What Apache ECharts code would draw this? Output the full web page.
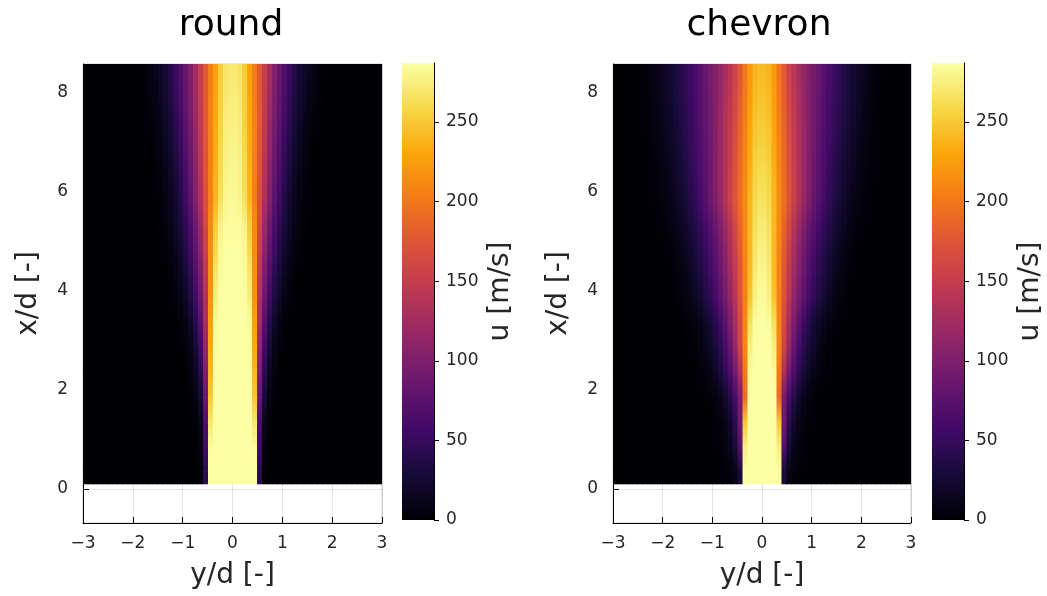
<!DOCTYPE html>
<html>
<head>
<meta charset="utf-8">
<script src="https://cdn.jsdelivr.net/npm/echarts@6/dist/echarts.min.js"></script>
<style>
  html, body { margin: 0; padding: 0; background: #fff; }
  #chart { width: 1047px; height: 596px; }
</style>
</head>
<body>
<div id="chart"></div>
<script>
// Panel titles and axis ticks
const titles = ['round', 'chevron'];
const yTicks = [0, 2, 4, 6, 8];
const colorbarTicks = [0, 50, 100, 150, 200, 250];
const uMax = 287;

// Extent of the measured field in x/d
const fieldStart = 0.1;
const fieldEnd = 8.6;

// Streamwise stations x/d and lateral offsets |y/d| (column centres)
const stations = [0.35, 0.85, 1.35, 1.85, 2.35, 2.85, 3.35, 3.85, 4.35, 4.85,
                  5.35, 5.85, 6.35, 6.85, 7.35, 7.85, 8.35];
const offsets = [0.05, 0.15, 0.25, 0.35, 0.45, 0.55, 0.65, 0.75, 0.85, 0.95,
                 1.05, 1.15, 1.25, 1.35, 1.45, 1.55, 1.65, 1.75, 1.85, 1.95,
                 2.05, 2.15, 2.25, 2.35, 2.45, 2.55, 2.65, 2.75, 2.85, 2.95];

// Mean axial velocity u [m/s], round nozzle: one row per station, one value per offset
const roundU = [
  [287,287,287,287,287, 40,3,0,0,0, 0,0,0,0,0, 0,0,0,0,0, 0,0,0,0,0, 0,0,0,0,0],
  [287,287,287,287,285, 55,6,1,0,0, 0,0,0,0,0, 0,0,0,0,0, 0,0,0,0,0, 0,0,0,0,0],
  [287,287,287,287,270, 65,12,2,0,0, 0,0,0,0,0, 0,0,0,0,0, 0,0,0,0,0, 0,0,0,0,0],
  [287,287,287,287,250, 85,27,7,2,0, 0,0,0,0,0, 0,0,0,0,0, 0,0,0,0,0, 0,0,0,0,0],
  [287,287,287,286,240, 100,42,16,5,1, 0,0,0,0,0, 0,0,0,0,0, 0,0,0,0,0, 0,0,0,0,0],
  [287,287,287,285,232, 115,56,27,11,4, 1,0,0,0,0, 0,0,0,0,0, 0,0,0,0,0, 0,0,0,0,0],
  [287,287,287,284,226, 128,72,40,20,9, 3,1,0,0,0, 0,0,0,0,0, 0,0,0,0,0, 0,0,0,0,0],
  [287,287,287,275,218, 135,88,56,34,19, 9,4,1,0,0, 0,0,0,0,0, 0,0,0,0,0, 0,0,0,0,0],
  [287,287,285,268,215, 145,100,68,45,28, 16,8,3,1,0, 0,0,0,0,0, 0,0,0,0,0, 0,0,0,0,0],
  [286,286,282,260,213, 155,112,80,56,38, 24,14,7,3,1, 0,0,0,0,0, 0,0,0,0,0, 0,0,0,0,0],
  [285,284,278,252,212, 163,122,90,65,46, 31,20,11,5,2, 0,0,0,0,0, 0,0,0,0,0, 0,0,0,0,0],
  [283,280,265,238,205, 170,134,104,77,56, 38,24,14,7,3, 1,0,0,0,0, 0,0,0,0,0, 0,0,0,0,0],
  [281,278,262,236,206, 173,139,109,83,62, 44,30,19,11,5, 2,0,0,0,0, 0,0,0,0,0, 0,0,0,0,0],
  [279,276,259,234,206, 175,143,114,89,68, 50,35,24,15,8, 4,1,0,0,0, 0,0,0,0,0, 0,0,0,0,0],
  [277,274,256,232,206, 177,147,119,95,74, 56,41,29,19,11, 6,3,1,0,0, 0,0,0,0,0, 0,0,0,0,0],
  [275,271,255,230,205, 178,150,124,100,80, 63,48,35,25,16, 9,5,2,0,0, 0,0,0,0,0, 0,0,0,0,0],
  [272,268,252,228,204, 178,152,127,104,84, 67,52,39,28,19, 12,7,3,1,0, 0,0,0,0,0, 0,0,0,0,0]
];

// Mean axial velocity u [m/s], chevron nozzle
const chevronU = [
  [287,287,287,287,30, 10,4,2,1,0, 0,0,0,0,0, 0,0,0,0,0, 0,0,0,0,0, 0,0,0,0,0],
  [287,287,287,275,70, 30,13,6,3,1, 0,0,0,0,0, 0,0,0,0,0, 0,0,0,0,0, 0,0,0,0,0],
  [287,287,287,250,90, 45,22,10,4,2, 1,0,0,0,0, 0,0,0,0,0, 0,0,0,0,0, 0,0,0,0,0],
  [287,287,287,190,95, 62,39,23,12,6, 2,1,0,0,0, 0,0,0,0,0, 0,0,0,0,0, 0,0,0,0,0],
  [287,287,283,202,132, 92,64,44,29,18, 10,5,2,1,0, 0,0,0,0,0, 0,0,0,0,0, 0,0,0,0,0],
  [287,287,276,210,158, 116,84,60,42,30, 20,12,6,3,1, 0,0,0,0,0, 0,0,0,0,0, 0,0,0,0,0],
  [287,285,265,210,165, 128,98,74,55,40, 28,18,11,6,3, 1,0,0,0,0, 0,0,0,0,0, 0,0,0,0,0],
  [284,277,248,207,172, 140,115,93,75,59, 46,35,25,17,10, 6,3,1,0,0, 0,0,0,0,0, 0,0,0,0,0],
  [281,272,242,208,176, 147,123,102,84,68, 55,43,33,24,16, 10,6,3,1,0, 0,0,0,0,0, 0,0,0,0,0],
  [277,268,240,210,181, 154,131,110,92,76, 63,51,40,31,22, 15,10,6,3,1, 0,0,0,0,0, 0,0,0,0,0],
  [272,264,240,212,187, 163,141,121,103,87, 73,60,49,39,30, 22,16,11,7,4, 2,1,0,0,0, 0,0,0,0,0],
  [266,260,240,215,195, 175,155,136,118,101, 86,72,59,48,38, 29,22,16,11,7, 4,2,1,0,0, 0,0,0,0,0],
  [261,256,236,212,192, 172,153,136,119,103, 88,75,63,52,42, 33,26,19,14,9, 6,3,2,1,0, 0,0,0,0,0],
  [256,251,232,209,189, 169,151,135,119,104, 90,77,66,55,46, 37,29,23,17,12, 8,5,3,1,0, 0,0,0,0,0],
  [251,246,229,206,186, 166,149,134,119,105, 92,80,69,59,49, 41,33,26,20,15, 10,7,4,2,1, 0,0,0,0,0],
  [247,242,225,203,182, 162,145,131,117,104, 92,81,71,61,51, 43,36,29,23,17, 12,8,5,2,1, 0,0,0,0,0],
  [243,238,222,200,178, 158,142,128,115,104, 93,83,73,63,54, 46,38,31,25,19, 14,10,6,3,1, 0,0,0,0,0]
];

// inferno colour map, low to high
const inferno = ['#000004', '#160b39', '#420a68', '#6a176e', '#932667', '#bc3754',
                 '#dd513a', '#f37819', '#fca50a', '#f6d746', '#fcffa4'];

const FONT = 'DejaVu Sans';
const INK = '#262626';
const CELL_W = 0.1;   // lateral strip width in y/d

const fmtMinus = v => (v < 0 ? '\u2212' + Math.abs(v) : String(v));
const uColor = u => echarts.color.lerp(Math.max(0, Math.min(1, u / uMax)), inferno);

// Strips between neighbouring stations, mirrored about the jet axis:
// [y/d, x/d bottom, x/d top, u bottom, u top]
function fieldData(rows) {
  const out = [];
  const n = stations.length;
  for (let i = -1; i < n; i++) {
    const x0 = i < 0 ? fieldStart : stations[i];
    const x1 = i === n - 1 ? fieldEnd : stations[i + 1];
    const r0 = rows[Math.max(i, 0)];
    const r1 = rows[Math.min(i + 1, n - 1)];
    offsets.forEach((p, j) => {
      out.push([p, x0, x1, r0[j], r1[j]]);
      out.push([-p, x0, x1, r0[j], r1[j]]);
    });
  }
  return out;
}

function stripItem(params, api) {
  const yc = api.value(0);
  const a = api.coord([yc - CELL_W / 2, api.value(2)]);
  const b = api.coord([yc + CELL_W / 2, api.value(1)]);
  return {
    type: 'rect',
    shape: { x: a[0] - 0.4, y: a[1] - 0.4, width: b[0] - a[0] + 0.8, height: b[1] - a[1] + 0.8 },
    style: {
      fill: new echarts.graphic.LinearGradient(0, 0, 0, 1, [
        { offset: 0, color: uColor(api.value(4)) },
        { offset: 1, color: uColor(api.value(3)) }
      ])
    }
  };
}

function colorbarItem(params, api) {
  const a = api.coord([0, api.value(1)]);
  const b = api.coord([1, 0]);
  return {
    type: 'rect',
    shape: { x: a[0], y: a[1], width: b[0] - a[0], height: b[1] - a[1] },
    style: {
      fill: new echarts.graphic.LinearGradient(0, 1, 0, 0,
        inferno.map((c, i) => ({ offset: i / (inferno.length - 1), color: c })))
    }
  };
}

const tickText = { fontFamily: FONT, fontSize: 17, color: INK };
const nameText = { fontFamily: FONT, fontSize: 28, color: INK };

function fieldX(gridIndex) {
  return {
    gridIndex, type: 'value', min: -3, max: 3, interval: 1,
    name: 'y/d [-]', nameLocation: 'middle', nameGap: 39, nameTextStyle: nameText,
    axisLine: { show: true, onZero: false, lineStyle: { color: '#000', width: 1 } },
    axisTick: { show: true, inside: true, length: 6, lineStyle: { color: '#000' } },
    axisLabel: Object.assign({ margin: 12, formatter: fmtMinus }, tickText),
    splitLine: { show: true, lineStyle: { color: 'rgba(0,0,0,0.1)', width: 1 } }
  };
}

function fieldY(gridIndex) {
  return {
    gridIndex, type: 'value', min: -0.69, max: 8.58, splitNumber: 5,
    name: 'x/d [-]', nameLocation: 'middle', nameRotate: 90, nameGap: 40, nameTextStyle: nameText,
    axisLine: { show: true, onZero: false, lineStyle: { color: '#000', width: 1 } },
    axisTick: { show: true, inside: true, length: 6, customValues: yTicks, lineStyle: { color: '#000' } },
    axisLabel: Object.assign({ margin: 15, customValues: yTicks, formatter: fmtMinus }, tickText),
    splitLine: { show: true, lineStyle: { color: 'rgba(0,0,0,0.1)', width: 1 } }
  };
}

function barX(gridIndex) {
  return { gridIndex, type: 'value', min: 0, max: 1, show: false };
}

function barY(gridIndex) {
  return {
    gridIndex, type: 'value', position: 'right', min: 0, max: uMax, interval: 50,
    name: 'u [m/s]', nameLocation: 'middle', nameRotate: 90, nameGap: 53, nameTextStyle: nameText,
    axisLine: { show: true, onZero: false, lineStyle: { color: '#000', width: 1 } },
    axisTick: { show: true, inside: false, length: 5, customValues: colorbarTicks, lineStyle: { color: '#000' } },
    axisLabel: Object.assign({ margin: 12, customValues: colorbarTicks }, tickText),
    splitLine: { show: false }
  };
}

const titleText = { fontFamily: FONT, fontSize: 36, fontWeight: 'normal', color: '#000' };

const chart = echarts.init(document.getElementById('chart'));
chart.setOption({
  backgroundColor: '#fff',
  animation: false,
  title: [
    { text: titles[0], left: 226, top: 3, textAlign: 'center', textStyle: titleText },
    { text: titles[1], left: 754, top: 3, textAlign: 'center', textStyle: titleText }
  ],
  grid: [
    { left: 83, top: 64, width: 299, height: 459, show: true, borderColor: '#cfcfcf', borderWidth: 1 },
    { left: 402, top: 63, width: 32, height: 457 },
    { left: 613, top: 64, width: 298, height: 459, show: true, borderColor: '#cfcfcf', borderWidth: 1 },
    { left: 932, top: 63, width: 32, height: 457 }
  ],
  xAxis: [fieldX(0), barX(1), fieldX(2), barX(3)],
  yAxis: [fieldY(0), barY(1), fieldY(2), barY(3)],
  series: [
    { type: 'custom', name: titles[0], xAxisIndex: 0, yAxisIndex: 0, clip: true, silent: true,
      renderItem: stripItem, data: fieldData(roundU) },
    { type: 'custom', name: titles[1], xAxisIndex: 2, yAxisIndex: 2, clip: true, silent: true,
      renderItem: stripItem, data: fieldData(chevronU) },
    { type: 'custom', xAxisIndex: 1, yAxisIndex: 1, silent: true,
      renderItem: colorbarItem, data: [[0, uMax]] },
    { type: 'custom', xAxisIndex: 3, yAxisIndex: 3, silent: true,
      renderItem: colorbarItem, data: [[0, uMax]] }
  ]
});
</script>
</body>
</html>
